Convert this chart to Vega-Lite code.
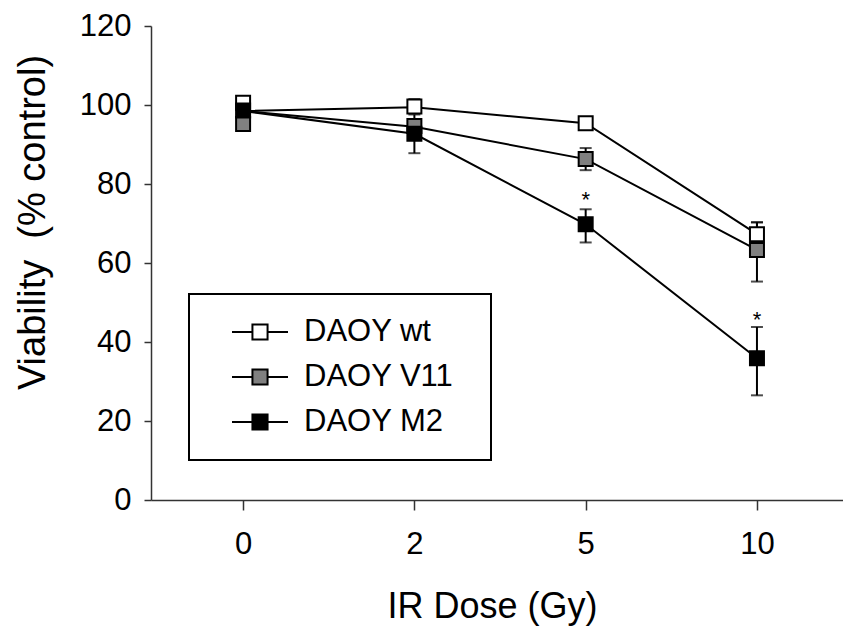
{
  "$schema": "https://vega.github.io/schema/vega-lite/v6.json",
  "width": 692,
  "height": 474,
  "autosize": "none",
  "padding": {"left": 151, "top": 26, "right": 0, "bottom": 131},
  "background": "white",
  "config": {"font": "Liberation Sans", "view": {"stroke": null}, "axis": {"grid": false}},
  "data": {
    "values": [
      {"series": "DAOY wt", "dose": 0, "mean": 100.6, "lo": 99.5, "hi": 101.8, "lineY": 98.5},
      {"series": "DAOY wt", "dose": 2, "mean": 99.6, "lo": 98.0, "hi": 101.5, "lineY": 99.4},
      {"series": "DAOY wt", "dose": 5, "mean": 95.4, "lo": 94.4, "hi": 96.4, "lineY": 95.4},
      {"series": "DAOY wt", "dose": 10, "mean": 67.3, "lo": 64.3, "hi": 70.3, "lineY": 67.3},
      {"series": "DAOY V11", "dose": 0, "mean": 95.2, "lo": 94.0, "hi": 96.4, "lineY": 98.5},
      {"series": "DAOY V11", "dose": 2, "mean": 94.7, "lo": 93.2, "hi": 96.2, "lineY": 94.5},
      {"series": "DAOY V11", "dose": 5, "mean": 86.3, "lo": 83.5, "hi": 89.1, "lineY": 86.3},
      {"series": "DAOY V11", "dose": 10, "mean": 63.3, "lo": 55.3, "hi": 70.3, "lineY": 63.3},
      {"series": "DAOY M2", "dose": 0, "mean": 98.6, "lo": 97.4, "hi": 99.8, "lineY": 98.5},
      {"series": "DAOY M2", "dose": 2, "mean": 92.7, "lo": 87.8, "hi": 97.6, "lineY": 92.7},
      {"series": "DAOY M2", "dose": 5, "mean": 69.8, "lo": 65.2, "hi": 73.6, "lineY": 69.8},
      {"series": "DAOY M2", "dose": 10, "mean": 35.9, "lo": 26.5, "hi": 43.8, "lineY": 35.9}
    ]
  },
  "encoding": {
    "x": {
      "field": "dose",
      "type": "ordinal",
      "scale": {"type": "point", "padding": 0.52, "align": 0.517},
      "axis": {
        "title": "IR Dose (Gy)",
        "labelAngle": 0,
        "labelFontSize": 31,
        "labelColor": "black",
        "labelPadding": 19,
        "tickSize": 10,
        "tickColor": "#333333",
        "tickWidth": 1.5,
        "domainColor": "#333333",
        "domainWidth": 1.5,
        "titleFontSize": 36,
        "titleFontWeight": "normal",
        "titleColor": "black",
        "titleBaseline": "alphabetic",
        "titleY": 117,
        "titleX": 341
      }
    }
  },
  "layer": [
    {
      "mark": {"type": "line", "color": "black", "strokeWidth": 2},
      "encoding": {
        "y": {"field": "lineY", "type": "quantitative", "title": "Viability \u00a0(% control)", "scale": {"domain": [0, 120]}},
        "detail": {"field": "series"}
      }
    },
    {
      "mark": {"type": "rule", "color": "black", "strokeWidth": 2},
      "encoding": {
        "y": {"field": "lo", "type": "quantitative", "title": "Viability \u00a0(% control)"},
        "y2": {"field": "hi"}
      }
    },
    {
      "mark": {"type": "tick", "orient": "horizontal", "size": 12, "thickness": 2, "color": "black"},
      "encoding": {
        "y": {"field": "lo", "type": "quantitative", "title": "Viability \u00a0(% control)"}
      }
    },
    {
      "mark": {"type": "tick", "orient": "horizontal", "size": 12, "thickness": 2, "color": "black"},
      "encoding": {
        "y": {"field": "hi", "type": "quantitative", "title": "Viability \u00a0(% control)"}
      }
    },
    {
      "mark": {"type": "square", "size": 196, "filled": true, "stroke": "black", "strokeWidth": 2, "opacity": 1},
      "encoding": {
        "y": {
          "field": "mean",
          "type": "quantitative",
          "title": "Viability \u00a0(% control)",
          "axis": {
            "values": [0, 20, 40, 60, 80, 100, 120],
            "labelFontSize": 31,
            "labelColor": "black",
            "labelPadding": 13,
            "tickSize": 7,
            "tickColor": "#333333",
            "tickWidth": 1.5,
            "domainColor": "#333333",
            "domainWidth": 1.5,
            "titleFontSize": 38,
            "titleFontWeight": "normal",
            "titleColor": "black",
            "titleAngle": -90,
            "titleBaseline": "alphabetic",
            "titleAlign": "center",
            "titleX": -107,
            "titleY": 196
          }
        },
        "fill": {
          "field": "series",
          "type": "nominal",
          "scale": {"domain": ["DAOY wt", "DAOY V11", "DAOY M2"], "range": ["white", "#808080", "black"]},
          "legend": {
            "title": "\u00a0",
            "titleOrient": "right",
            "titleFontSize": 31,
            "titlePadding": 15,
            "orient": "none",
            "legendX": 38,
            "legendY": 268,
            "symbolType": "M-1,0H-0.27M0.27,0H1M-0.27,-0.27H0.27V0.27H-0.27Z",
            "symbolSize": 3136,
            "symbolStrokeColor": "black",
            "symbolStrokeWidth": 2,
            "symbolOpacity": 1,
            "labelFontSize": 31,
            "labelColor": "black",
            "labelOffset": 15,
            "symbolOffset": 19,
            "padding": 23,
            "clipHeight": 30,
            "rowPadding": 14,
            "strokeColor": "black",
            "fillColor": "white",
            "encode": {
              "symbols": {"update": {"stroke": {"value": "black"}, "strokeWidth": {"value": 2}}},
              "legend": {"update": {"strokeWidth": {"value": 2}}}
            }
          }
        }
      }
    },
    {
      "data": {"values": [{"dose": 5, "v": 74.3, "label": "*"}, {"dose": 10, "v": 43.8, "label": "*"}]},
      "mark": {"type": "text", "fontSize": 22, "baseline": "alphabetic", "color": "black"},
      "encoding": {
        "y": {"field": "v", "type": "quantitative", "title": "Viability \u00a0(% control)"},
        "text": {"field": "label"}
      }
    }
  ]
}
